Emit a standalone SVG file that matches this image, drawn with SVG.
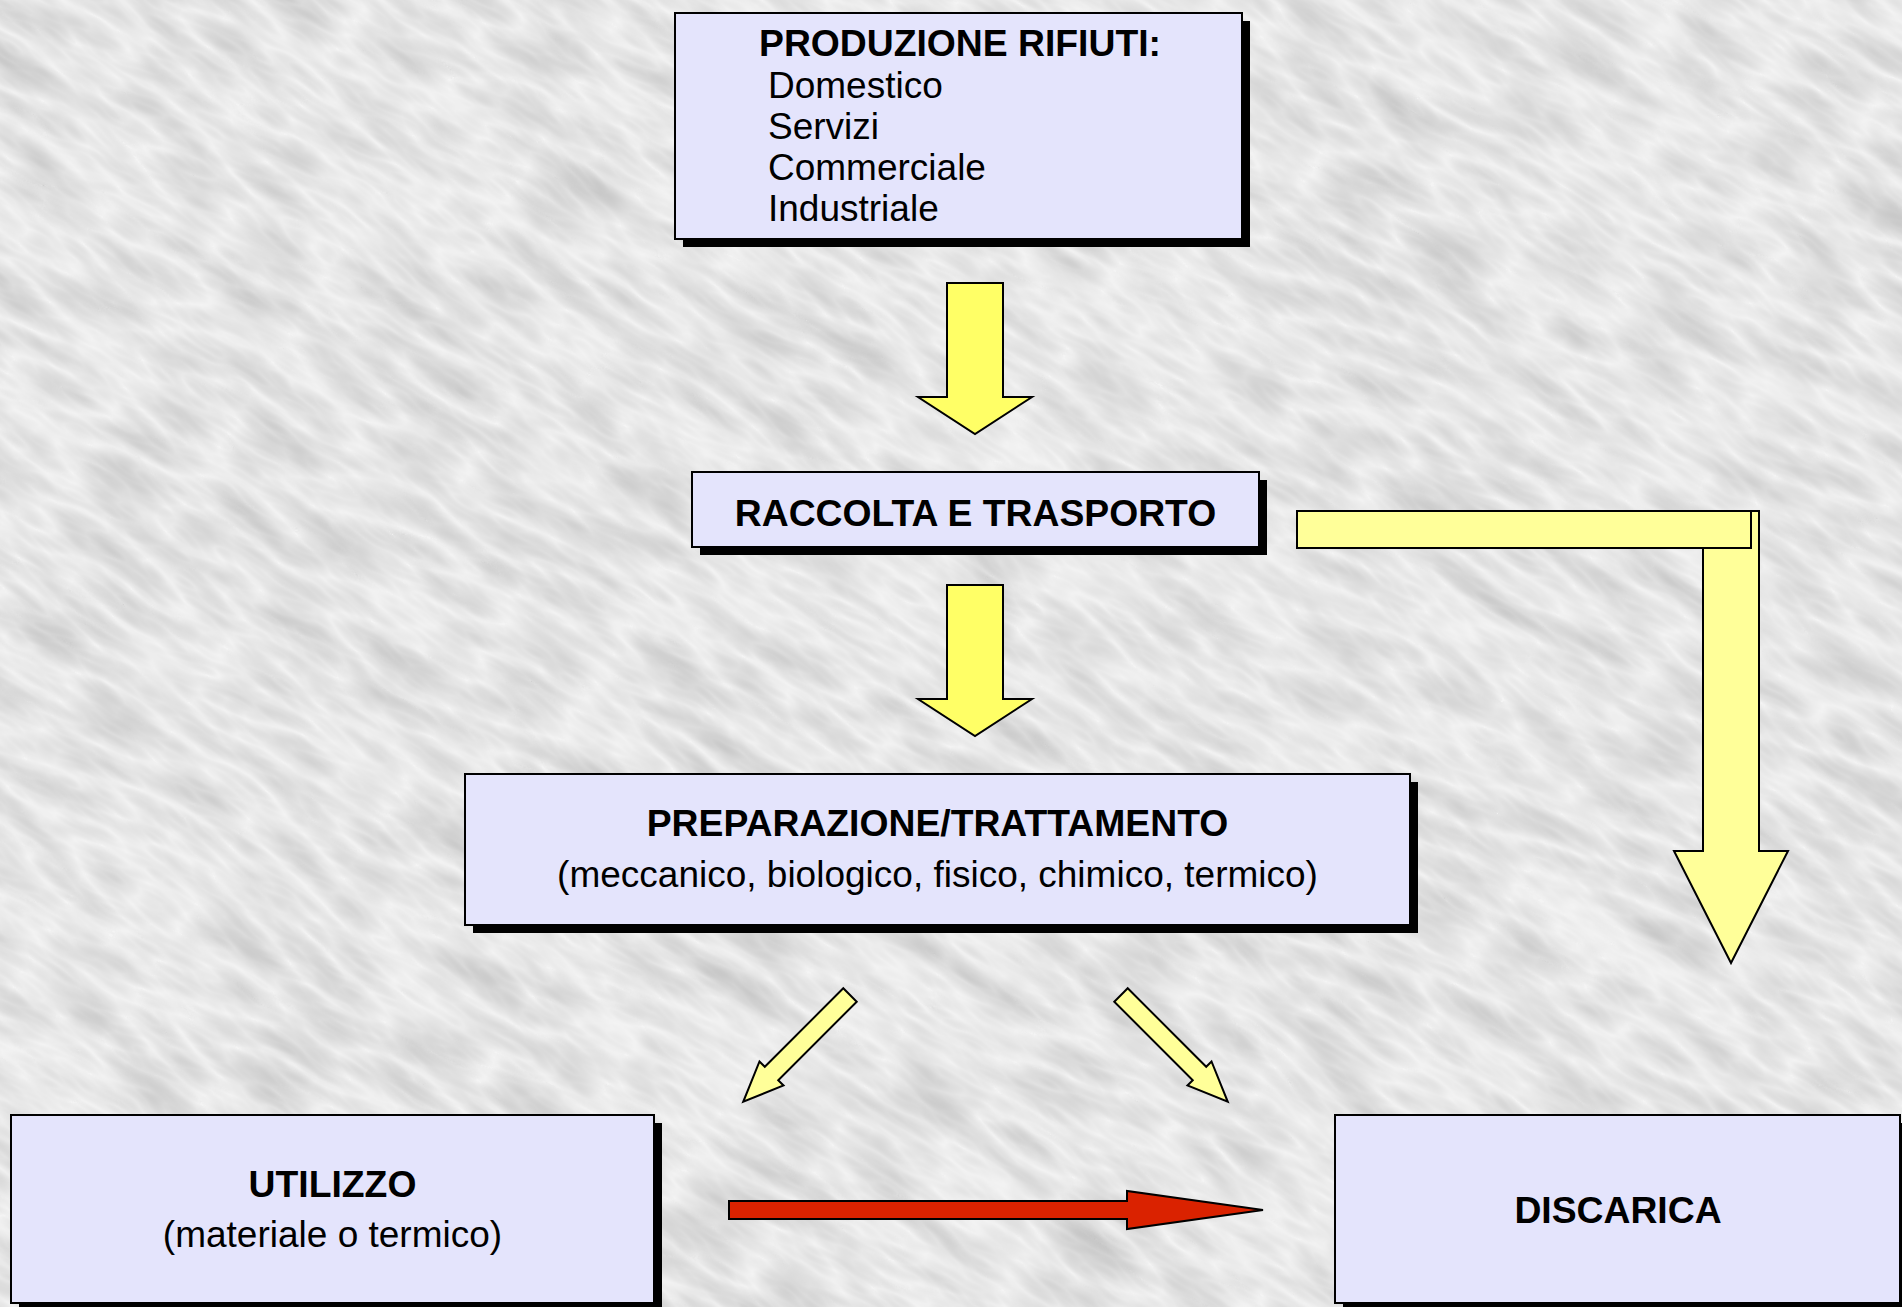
<svg xmlns="http://www.w3.org/2000/svg" width="1902" height="1307" viewBox="0 0 1902 1307">
  <defs>
    <filter id="marble" x="0" y="0" width="100%" height="100%" filterUnits="objectBoundingBox" color-interpolation-filters="sRGB">
      <feTurbulence type="turbulence" baseFrequency="0.009 0.03" numOctaves="3" seed="7" result="t"/>
      <feColorMatrix in="t" type="matrix" values="-0.2 0 0 0 0.955  -0.2 0 0 0 0.955  -0.2 0 0 0 0.955  0 0 0 0 1"/>
    </filter>
    <style>
      .box { fill: #E4E4FC; stroke: #000; stroke-width: 2; }
      .shadow { fill: #000; }
      .t { font-family: "Liberation Sans", Arial, sans-serif; fill: #000; }
      .b { font-weight: bold; font-size: 37.3px; }
      .r { font-size: 37px; }
      .c { text-anchor: middle; }
      .ya { fill: #FFFF66; stroke: #000; stroke-width: 2; stroke-linejoin: miter; }
      .yb { fill: #FFFF99; stroke: #000; stroke-width: 2; stroke-linejoin: miter; }
      .red { fill: #DA2200; stroke: #000; stroke-width: 2; stroke-linejoin: miter; }
    </style>
  </defs>

  <rect width="1902" height="1307" fill="#E4E4E4"/>
  <rect x="-700" y="-900" width="3300" height="3100" transform="rotate(32 951 653)" filter="url(#marble)"/>

  <g id="connectors">
    <polygon id="arrow-produzione-raccolta" class="ya" points="947,283 1003,283 1003,397 1032,397 975,434 918,397 947,397"/>
    <polygon id="arrow-raccolta-preparazione" class="ya" points="947,585 1003,585 1003,699 1032,699 975,736 918,699 947,699"/>
    <g id="arrow-raccolta-discarica">
      <polygon class="yb" points="1703,511 1759,511 1759,851 1788,851 1731,963 1674,851 1703,851"/>
      <rect class="yb" x="1297" y="511" width="454" height="37"/>
    </g>
    <polygon id="arrow-preparazione-utilizzo" class="yb" transform="translate(850,995) rotate(135)" points="0,-9.5 111,-9.5 111,-17 151,0 111,17 111,9.5 0,9.5"/>
    <polygon id="arrow-preparazione-discarica" class="yb" transform="translate(1121,995) rotate(45)" points="0,-9.5 111,-9.5 111,-17 151,0 111,17 111,9.5 0,9.5"/>
    <polygon id="arrow-utilizzo-discarica" class="red" points="729,1201 1127,1201 1127,1191 1263,1210 1127,1229 1127,1219 729,1219"/>
  </g>

  <g id="node-produzione">
    <rect class="shadow" x="683" y="21" width="567" height="226"/>
    <rect class="box" x="675" y="13" width="567" height="226"/>
    <text class="t b" x="759" y="56">PRODUZIONE RIFIUTI:</text>
    <text class="t r" x="768" y="98">Domestico</text>
    <text class="t r" x="768" y="139">Servizi</text>
    <text class="t r" x="768" y="180">Commerciale</text>
    <text class="t r" x="768" y="221">Industriale</text>
  </g>

  <g id="node-raccolta">
    <rect class="shadow" x="700" y="480" width="567" height="75"/>
    <rect class="box" x="692" y="472" width="567" height="75"/>
    <text class="t b c" x="975.5" y="526">RACCOLTA E TRASPORTO</text>
  </g>

  <g id="node-preparazione">
    <rect class="shadow" x="473" y="782" width="945" height="151"/>
    <rect class="box" x="465" y="774" width="945" height="151"/>
    <text class="t b c" x="937.5" y="836">PREPARAZIONE/TRATTAMENTO</text>
    <text class="t r c" x="937.5" y="887">(meccanico, biologico, fisico, chimico, termico)</text>
  </g>

  <g id="node-utilizzo">
    <rect class="shadow" x="19" y="1123" width="643" height="188"/>
    <rect class="box" x="11" y="1115" width="643" height="188"/>
    <text class="t b c" x="332.5" y="1197">UTILIZZO</text>
    <text class="t r c" x="332.5" y="1247">(materiale o termico)</text>
  </g>

  <g id="node-discarica">
    <rect class="shadow" x="1343" y="1123" width="565" height="188"/>
    <rect class="box" x="1335" y="1115" width="565" height="188"/>
    <text class="t b c" x="1618" y="1223">DISCARICA</text>
  </g>
</svg>
